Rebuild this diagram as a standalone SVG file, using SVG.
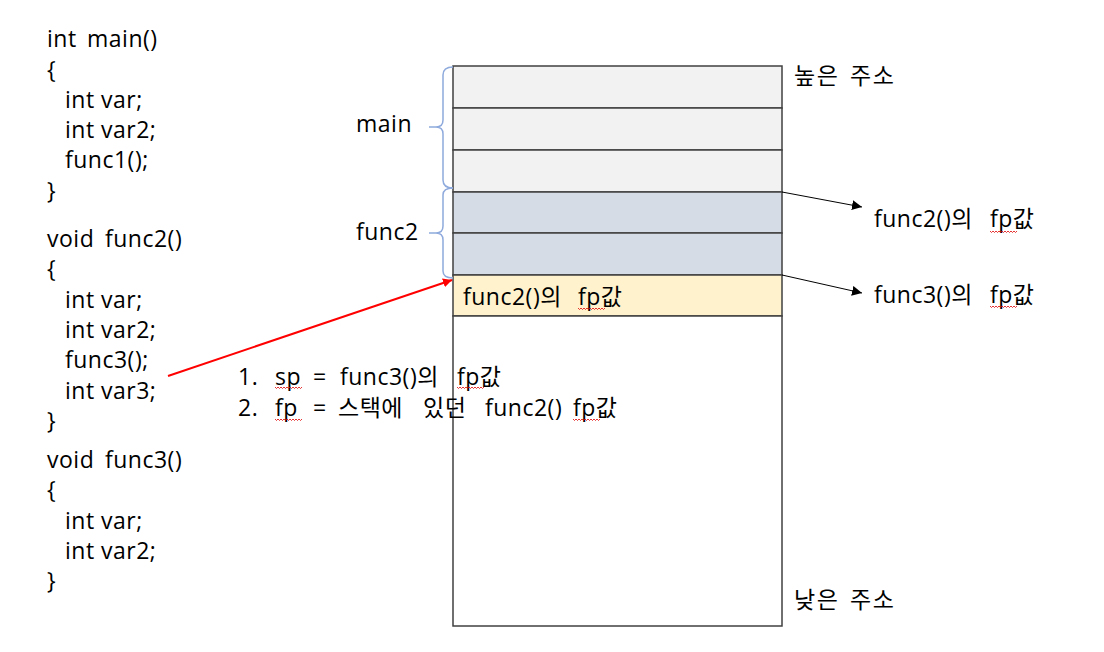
<svg xmlns="http://www.w3.org/2000/svg" width="1104" height="652" viewBox="0 0 1104 652">
<defs>
<style>
text{font-family:"Open Sans","Noto Sans CJK KR",sans-serif;font-size:23px;fill:#000;letter-spacing:0.5px;}
.cell{stroke:#404040;stroke-width:1.5;}
.brace{fill:none;stroke:#8FAADC;stroke-width:1.5;}
.conn{stroke:#000;stroke-width:1;fill:none;}
.sq{fill:none;stroke:#E00000;stroke-width:0.8;}
</style>
<marker id="ah" viewBox="0 0 10 10" refX="10" refY="5" markerWidth="10" markerHeight="10" markerUnits="userSpaceOnUse" orient="auto"><path d="M0,0 L10,5 L0,10 z" fill="#000"/></marker>
<marker id="ahr" viewBox="0 0 10 10" refX="10" refY="5" markerWidth="9" markerHeight="9" markerUnits="userSpaceOnUse" orient="auto"><path d="M0,0 L10,5 L0,10 z" fill="#FF0000"/></marker>
<path id="wave" d="M0,0 l1.5,1.5 l1.5,-1.5 l1.5,1.5 l1.5,-1.5 l1.5,1.5 l1.5,-1.5 l1.5,1.5 l1.5,-1.5 l1.5,1.5 l1.5,-1.5 l1.5,1.5 l1.5,-1.5 l1.5,1.5 l1.5,-1.5 l1.5,1.5 l1.5,-1.5 l1.5,1.5 l1.5,-1.5" class="sq"/>
</defs>
<rect width="1104" height="652" fill="#fff"/>
<g id="code">
<text y="47"><tspan x="47">int </tspan><tspan x="87">main()</tspan></text>
<text x="47" y="78">{</text>
<text y="108"><tspan x="65">int </tspan><tspan x="101">var;</tspan></text>
<text y="138"><tspan x="65">int </tspan><tspan x="101">var2;</tspan></text>
<text x="65" y="168">func1();</text>
<text x="47" y="199">}</text>
<text y="247"><tspan x="47">void </tspan><tspan x="105">func2()</tspan></text>
<text x="47" y="277">{</text>
<text y="308"><tspan x="65">int </tspan><tspan x="101">var;</tspan></text>
<text y="338"><tspan x="65">int </tspan><tspan x="101">var2;</tspan></text>
<text x="65" y="368">func3();</text>
<text y="399"><tspan x="65">int </tspan><tspan x="101">var3;</tspan></text>
<text x="47" y="429">}</text>
<text y="468"><tspan x="47">void </tspan><tspan x="105">func3()</tspan></text>
<text x="47" y="498">{</text>
<text y="529"><tspan x="65">int </tspan><tspan x="101">var;</tspan></text>
<text y="559"><tspan x="65">int </tspan><tspan x="101">var2;</tspan></text>
<text x="47" y="589">}</text>
</g>
<g id="stack">
<rect class="cell" x="453" y="66" width="329" height="42" fill="#F2F2F2"/>
<rect class="cell" x="453" y="108" width="329" height="42" fill="#F2F2F2"/>
<rect class="cell" x="453" y="150" width="329" height="42" fill="#F2F2F2"/>
<rect class="cell" x="453" y="192" width="329" height="41" fill="#D6DCE5"/>
<rect class="cell" x="453" y="233" width="329" height="42" fill="#D6DCE5"/>
<rect class="cell" x="453" y="275" width="329" height="41" fill="#FFF2CC"/>
<rect class="cell" x="453" y="316" width="329" height="310" fill="#FFFFFF"/>
</g>
<g id="cell-func2fp">
<text y="305"><tspan x="463">func2()의 </tspan><tspan x="578">fp값</tspan></text>
<use href="#wave" x="578" y="308"/>
</g>
<g id="brace-main">
<path class="brace" d="M453,67 Q443,67 443,75 L443,120 Q443,127 436,127 L429,127 M436,127 Q443,127 443,134 L443,180 Q443,188 453,188"/>
<text x="356" y="132">main</text>
</g>
<g id="brace-func2">
<path class="brace" d="M453,188 Q443,188 443,195 L443,226 Q443,233 436,233 L429,233 M436,233 Q443,233 443,240 L443,271 Q443,278 453,278"/>
<text x="356" y="240">func2</text>
</g>
<g id="label-high"><text y="84" style="letter-spacing:1.5px"><tspan x="794">높은 </tspan><tspan x="850">주소</tspan></text></g>
<g id="label-low"><text y="608" style="letter-spacing:1.5px"><tspan x="794">낮은 </tspan><tspan x="850">주소</tspan></text></g>
<g id="label-func2fp">
<text y="227"><tspan x="874">func2()의 </tspan><tspan x="990">fp값</tspan></text>
<use href="#wave" x="990" y="231"/>
</g>
<g id="label-func3fp">
<text y="303"><tspan x="874">func3()의 </tspan><tspan x="990">fp값</tspan></text>
<use href="#wave" x="990" y="306"/>
</g>
<g id="steps">
<text y="385"><tspan x="238">1. </tspan><tspan x="275">sp </tspan><tspan x="313">= </tspan><tspan x="340">func3()의 </tspan><tspan x="457">fp값</tspan></text>
<text y="416"><tspan x="238">2. </tspan><tspan x="275">fp </tspan><tspan x="313">= </tspan><tspan x="338">스택에 </tspan><tspan x="423">있던 </tspan><tspan x="485">func2() </tspan><tspan x="573">fp값</tspan></text>
<use href="#wave" x="275" y="387"/>
<use href="#wave" x="457" y="387"/>
<use href="#wave" x="275" y="419"/>
<use href="#wave" x="573" y="419"/>
</g>
<g id="connectors">
<line class="conn" x1="782" y1="192" x2="862" y2="207" marker-end="url(#ah)"/>
<line class="conn" x1="782" y1="275" x2="862" y2="293" marker-end="url(#ah)"/>
<line x1="168" y1="376" x2="452" y2="280" stroke="#FF0000" stroke-width="2" marker-end="url(#ahr)"/>
</g>
</svg>
